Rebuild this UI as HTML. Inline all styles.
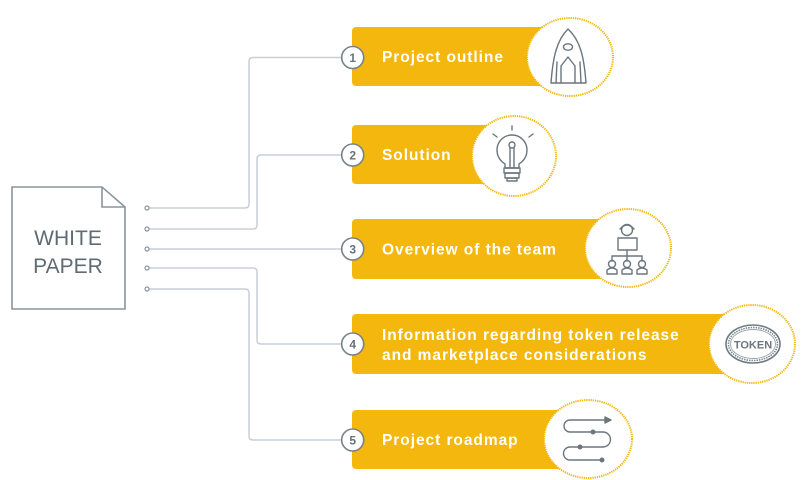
<!DOCTYPE html>
<html>
<head>
<meta charset="utf-8">
<style>
  html,body{margin:0;padding:0;background:#fff;}
  svg{display:block;}
  .box{fill:#f4b70e;}
  .lbl{font-family:"Liberation Sans",Arial,sans-serif;font-weight:bold;font-size:15.5px;letter-spacing:0.95px;fill:#fff;}
  .conn{fill:none;stroke:#c7cfd5;stroke-width:1.5;}
  .num{fill:#fff;stroke:#76828a;stroke-width:1.6;}
  .numt{font-family:"Liberation Sans",Arial,sans-serif;font-weight:bold;font-size:12px;fill:#66727a;text-anchor:middle;}
  .ic{fill:#fff;stroke:#f4b70e;stroke-width:2;stroke-dasharray:1.3 0.9;}
  .ico{fill:none;stroke:#6b767d;stroke-width:1.4;stroke-linejoin:round;stroke-linecap:round;}
</style>
</head>
<body>
<svg width="802" height="480" viewBox="0 0 802 480" xmlns="http://www.w3.org/2000/svg">
  <!-- document -->
  <path d="M12,187 L102,187 L125,207 L125,309 L12,309 Z" fill="#fff" stroke="#8a959c" stroke-width="1.6"/>
  <path d="M102,187 L102,207 L125,207" fill="none" stroke="#8a959c" stroke-width="1.6"/>
  <text x="68" y="245" font-family="'Liberation Sans',Arial,sans-serif" font-size="21" fill="#5f6b73" text-anchor="middle">WHITE</text>
  <text x="68" y="273" font-family="'Liberation Sans',Arial,sans-serif" font-size="21" fill="#5f6b73" text-anchor="middle">PAPER</text>

  <!-- connectors -->
  <path class="conn" d="M147,208 L245,208 Q249,208 249,204 L249,61.5 Q249,57.5 253,57.5 L342,57.5"/>
  <path class="conn" d="M147,229 L253,229 Q257,229 257,225 L257,159 Q257,155 261,155 L342,155"/>
  <path class="conn" d="M147,249 L342,249"/>
  <path class="conn" d="M147,268 L253,268 Q257,268 257,272 L257,340 Q257,344 261,344 L342,344"/>
  <path class="conn" d="M147,289 L245,289 Q249,289 249,293 L249,436 Q249,440 253,440 L342,440"/>
  <g fill="#fff" stroke="#8a959c" stroke-width="1.2">
    <circle cx="147" cy="208" r="2"/>
    <circle cx="147" cy="229" r="2"/>
    <circle cx="147" cy="249" r="2"/>
    <circle cx="147" cy="268" r="2"/>
    <circle cx="147" cy="289" r="2"/>
  </g>

  <!-- boxes -->
  <rect class="box" x="352" y="27" width="220" height="59" rx="4"/>
  <rect class="box" x="352" y="125" width="164" height="59" rx="4"/>
  <rect class="box" x="352" y="219" width="278" height="60" rx="4"/>
  <rect class="box" x="352" y="314" width="402" height="60" rx="4"/>
  <rect class="box" x="352" y="410" width="238" height="59" rx="4"/>

  <text class="lbl" x="382" y="62">Project outline</text>
  <text class="lbl" x="382" y="160">Solution</text>
  <text class="lbl" x="382" y="254.5">Overview of the team</text>
  <text class="lbl" x="382" y="340">Information regarding token release</text>
  <text class="lbl" x="382" y="360">and marketplace considerations</text>
  <text class="lbl" x="382" y="445">Project roadmap</text>

  <!-- number circles -->
  <circle class="num" cx="352.7" cy="57.5" r="11"/>
  <text class="numt" x="352.7" y="61.8">1</text>
  <circle class="num" cx="352.7" cy="155" r="11"/>
  <text class="numt" x="352.7" y="159.3">2</text>
  <circle class="num" cx="352.7" cy="249" r="11"/>
  <text class="numt" x="352.7" y="253.3">3</text>
  <circle class="num" cx="352.7" cy="344" r="11"/>
  <text class="numt" x="352.7" y="348.3">4</text>
  <circle class="num" cx="352.7" cy="440" r="11"/>
  <text class="numt" x="352.7" y="444.3">5</text>

  <!-- icon circles -->
  <ellipse class="ic" cx="570" cy="57" rx="43" ry="39"/>
  <ellipse class="ic" cx="514" cy="156" rx="42" ry="40"/>
  <ellipse class="ic" cx="628" cy="248" rx="43" ry="39"/>
  <ellipse class="ic" cx="752" cy="344" rx="43" ry="39"/>
  <ellipse class="ic" cx="588" cy="439" rx="44" ry="39"/>

  <!-- rocket -->
  <g class="ico">
    <path d="M568,29 C557,40 553,56 551,83 L586,83 C584,56 580,40 568,29 Z"/>
    <ellipse cx="568" cy="47" rx="4.5" ry="3.2"/>
    <path d="M561,83 L561,66 L568,57 L575,66 L575,83"/>
    <path d="M556,83 L557,62"/>
    <path d="M581,83 L580,62"/>
  </g>

  <!-- light bulb -->
  <g class="ico">
    <path d="M505,168 L505,164 C499,160 497,155 497,150 A15,15 0 1 1 527,150 C527,155 525,160 519,164 L519,168 Z"/>
    <path d="M510,168 L510,148 M514,168 L514,148"/>
    <circle cx="512" cy="145" r="3"/>
    <rect x="504" y="168" width="16" height="5"/>
    <rect x="505" y="173" width="14" height="5"/>
    <path d="M507,178 L517,178 L517,181 L507,181 Z"/>
    <path d="M512,126 L512,130 M493,134 L497,137 M533,134 L529,137"/>
  </g>

  <!-- team -->
  <g class="ico">
    <circle cx="627" cy="230" r="5.5"/>
    <path d="M620,229 Q627,221 634,229"/>
    <rect x="618" y="238" width="19" height="12"/>
    <path d="M627,250 L627,256 M612,261 L612,256 L642,256 L642,261 M627,256 L627,261"/>
    <circle cx="612" cy="264" r="3.5"/>
    <path d="M607,274 L607,270 Q612,266 617,270 L617,274 Z"/>
    <circle cx="627" cy="264" r="3.5"/>
    <path d="M622,274 L622,270 Q627,266 632,270 L632,274 Z"/>
    <circle cx="642" cy="264" r="3.5"/>
    <path d="M637,274 L637,270 Q642,266 647,270 L647,274 Z"/>
  </g>

  <!-- token -->
  <g>
    <ellipse cx="753" cy="344" rx="27" ry="19" fill="none" stroke="#6f7a81" stroke-width="1.6"/>
    <ellipse cx="753" cy="344" rx="24.5" ry="16.5" fill="none" stroke="#7d888f" stroke-width="1.6" stroke-dasharray="1.5 1"/>
    <ellipse cx="753" cy="344" rx="22.5" ry="14.5" fill="none" stroke="#9aa4aa" stroke-width="0.9"/>
    <text x="753" y="348.5" font-family="'Liberation Sans',Arial,sans-serif" font-size="11" font-weight="bold" fill="#6b767d" text-anchor="middle">TOKEN</text>
  </g>

  <!-- roadmap -->
  <g class="ico" stroke-width="1.5">
    <path d="M606,420 L570,420 A6,6 0 0 0 570,432 L603,432 A7.5,7.5 0 0 1 603,447 L570,447 A6.5,6.5 0 0 0 570,460 L601,460"/>
    <path d="M605,417 L611,420 L605,423 Z" fill="#6b767d"/>
    <circle cx="593" cy="432" r="1.8" fill="#6b767d"/>
    <circle cx="580" cy="447" r="1.8" fill="#6b767d"/>
    <circle cx="602" cy="460" r="1.8" fill="#6b767d"/>
  </g>
</svg>
</body>
</html>
